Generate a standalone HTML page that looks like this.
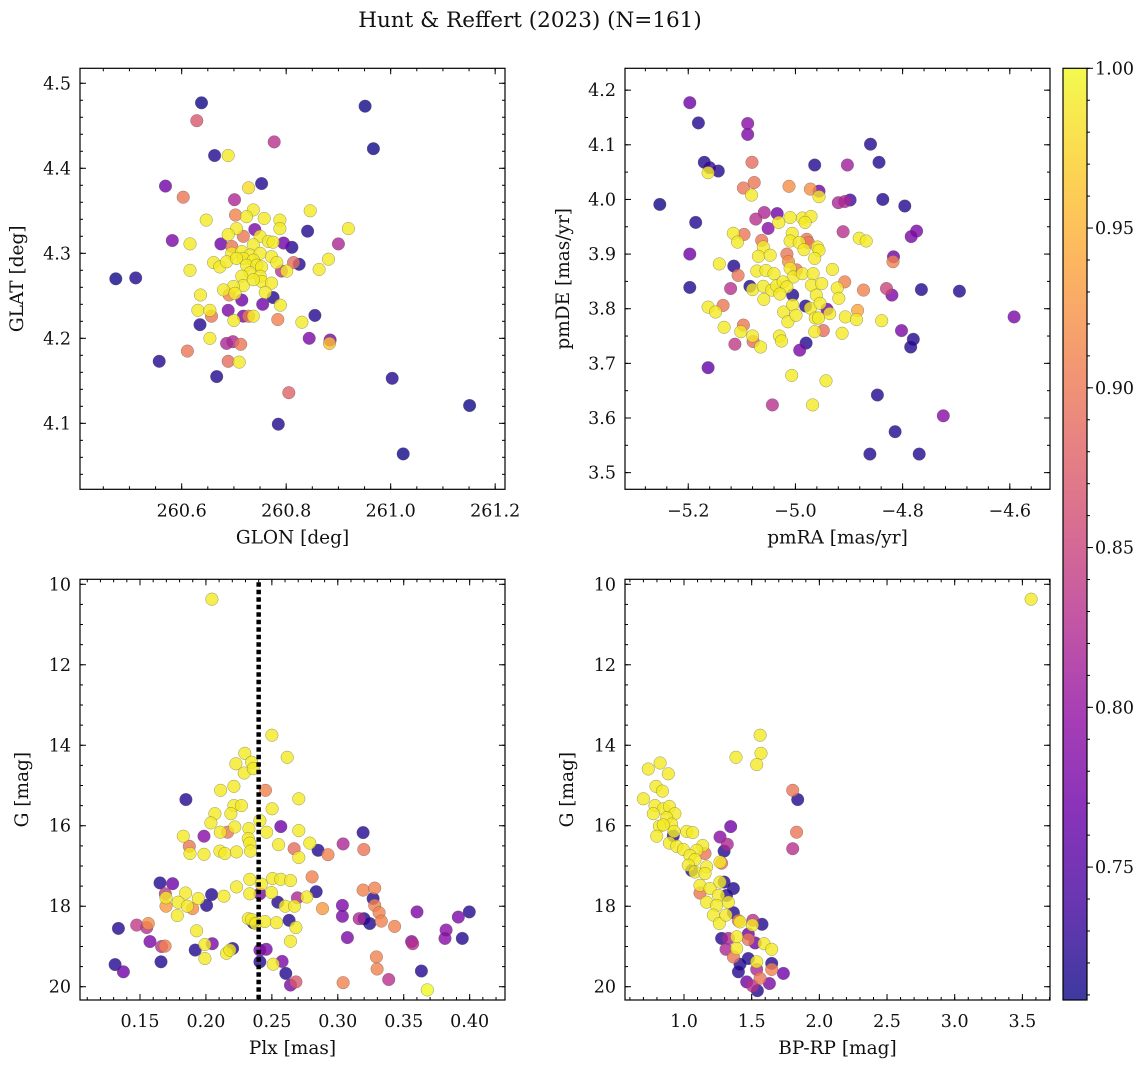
<!DOCTYPE html>
<html><head><meta charset="utf-8"><style>
html,body{margin:0;padding:0;background:#fff;}
svg{display:block;font-family:"DejaVu Serif","Liberation Serif",serif;}
</style></head><body>
<svg id="fig" width="1148" height="1067" viewBox="0 0 1148 1067" xmlns="http://www.w3.org/2000/svg">
<text x="530" y="27" font-size="21.5" text-anchor="middle" fill="#111">Hunt &amp; Reffert (2023) (N=161)</text>
</svg>
<script>
// ---- Panel 1: GLON vs GLAT ----
const tlX=[260.638,260.951,260.629,260.777,260.967,260.663,260.689,260.569,260.753,260.728,260.603,260.701,260.846,260.737,260.647,260.703,260.724,260.758,260.788,260.788,260.919,260.841,260.740,260.705,260.689,260.718,260.582,260.616,260.675,260.900,260.795,260.811,260.750,260.766,260.775,260.696,260.737,260.696,260.715,260.731,260.750,260.772,260.718,260.737,260.661,260.673,260.686,260.705,260.724,260.744,260.753,260.782,260.801,260.731,260.750,260.715,260.718,260.753,260.772,260.699,260.680,260.737,260.760,260.702,260.814,260.825,260.881,260.863,260.616,260.791,260.474,260.512,260.775,260.755,260.715,260.789,260.636,260.691,260.631,260.654,260.657,260.689,260.718,260.728,260.737,260.700,260.784,260.855,260.830,260.635,260.654,260.844,260.884,260.883,260.686,260.698,260.713,260.611,260.557,260.689,260.710,260.667,261.003,260.805,261.151,260.785,261.024];
const tlY=[4.477,4.473,4.456,4.431,4.423,4.415,4.415,4.379,4.382,4.377,4.366,4.363,4.350,4.351,4.339,4.345,4.343,4.341,4.339,4.329,4.329,4.326,4.328,4.329,4.322,4.320,4.315,4.311,4.311,4.311,4.312,4.307,4.320,4.314,4.313,4.308,4.310,4.300,4.302,4.298,4.300,4.296,4.294,4.292,4.289,4.284,4.290,4.294,4.286,4.286,4.284,4.289,4.279,4.277,4.273,4.273,4.262,4.267,4.265,4.261,4.257,4.269,4.254,4.253,4.289,4.287,4.293,4.281,4.280,4.279,4.270,4.271,4.248,4.240,4.245,4.239,4.251,4.251,4.233,4.233,4.226,4.233,4.226,4.226,4.226,4.221,4.222,4.227,4.219,4.216,4.200,4.200,4.198,4.194,4.194,4.196,4.193,4.185,4.173,4.173,4.172,4.155,4.153,4.136,4.121,4.099,4.064];
const tlP=[.71,.71,.87,.83,.71,.72,.99,.77,.72,.98,.90,.82,.99,.99,.99,.91,.99,.99,.99,.99,.99,.72,.78,.99,.99,.90,.78,.99,.77,.82,.77,.72,.99,.99,.99,.90,.99,.99,.99,.99,.99,.99,.99,.99,.99,.99,.99,.99,.99,.99,.99,.99,.99,.99,.99,.99,.99,.99,.99,.99,.99,.99,.99,.99,.89,.72,.99,.99,.99,.83,.71,.72,.72,.77,.77,.99,.99,.91,.99,.99,.90,.78,.78,.90,.99,.99,.91,.72,.99,.72,.99,.78,.78,.96,.82,.82,.90,.90,.72,.89,.99,.72,.72,.88,.71,.72,.71];
// ---- Panel 2: pmRA vs pmDE ----
const trX=[-5.197,-5.181,-5.089,-5.089,-4.860,-5.170,-5.160,-5.144,-5.163,-5.081,-4.964,-4.903,-4.844,-5.097,-5.077,-5.082,-5.012,-4.972,-4.956,-4.956,-5.253,-4.920,-4.898,-4.908,-4.837,-4.796,-5.186,-5.074,-5.058,-5.034,-5.051,-5.031,-5.010,-4.987,-4.971,-4.982,-4.911,-4.774,-4.784,-4.881,-4.868,-5.116,-5.108,-5.096,-5.063,-5.060,-5.006,-5.010,-4.993,-4.979,-4.976,-4.984,-4.959,-4.956,-5.197,-4.817,-4.818,-5.016,-5.013,-5.069,-5.047,-4.964,-5.142,-5.115,-5.107,-5.072,-5.055,-5.040,-5.010,-4.998,-5.004,-4.987,-4.967,-4.931,-5.197,-5.121,-5.085,-5.080,-5.060,-5.044,-5.035,-5.023,-5.016,-5.029,-4.970,-4.951,-4.908,-4.922,-4.873,-4.830,-4.820,-4.765,-4.694,-5.005,-5.059,-4.961,-4.919,-4.981,-4.972,-4.954,-4.941,-4.936,-5.163,-5.135,-5.149,-5.022,-5.005,-4.884,-4.907,-4.886,-4.839,-4.592,-5.014,-4.999,-4.963,-4.957,-5.133,-5.097,-5.102,-5.080,-5.079,-5.065,-5.113,-5.030,-5.026,-4.964,-4.948,-4.913,-4.802,-4.780,-4.785,-4.980,-4.992,-5.163,-5.007,-4.943,-5.043,-4.968,-4.847,-4.724,-4.814,-4.861,-4.769];
const trY=[4.177,4.140,4.139,4.119,4.101,4.068,4.058,4.052,4.049,4.068,4.063,4.063,4.068,4.021,4.031,4.008,4.024,4.019,4.015,4.005,3.991,3.994,3.999,3.996,4.000,3.988,3.958,3.964,3.976,3.974,3.947,3.958,3.967,3.966,3.969,3.958,3.941,3.942,3.932,3.929,3.924,3.938,3.922,3.936,3.925,3.913,3.938,3.924,3.921,3.927,3.921,3.908,3.913,3.907,3.900,3.895,3.886,3.900,3.886,3.896,3.898,3.892,3.882,3.878,3.861,3.869,3.870,3.864,3.874,3.871,3.858,3.864,3.864,3.872,3.839,3.837,3.841,3.835,3.841,3.834,3.842,3.849,3.840,3.827,3.843,3.846,3.849,3.838,3.834,3.837,3.825,3.835,3.832,3.825,3.817,3.825,3.819,3.805,3.801,3.810,3.799,3.791,3.803,3.806,3.794,3.794,3.807,3.797,3.785,3.780,3.778,3.785,3.776,3.788,3.783,3.783,3.766,3.770,3.758,3.750,3.740,3.730,3.735,3.750,3.741,3.758,3.760,3.755,3.760,3.744,3.730,3.737,3.724,3.692,3.678,3.668,3.624,3.624,3.642,3.604,3.575,3.534,3.534];
const trP=[.77,.72,.79,.78,.72,.72,.73,.72,.99,.89,.72,.81,.72,.90,.90,.99,.92,.92,.77,.99,.71,.82,.74,.82,.72,.72,.72,.83,.82,.77,.79,.99,.99,.99,.99,.99,.83,.78,.78,.99,.99,.99,.99,.90,.90,.99,.99,.99,.99,.90,.90,.99,.99,.99,.77,.77,.91,.90,.92,.99,.99,.99,.99,.72,.90,.99,.99,.99,.99,.90,.99,.99,.99,.99,.72,.83,.72,.99,.99,.99,.99,.99,.99,.99,.99,.99,.91,.99,.91,.85,.78,.72,.72,.72,.99,.99,.99,.72,.99,.99,.77,.99,.99,.90,.99,.99,.99,.94,.99,.99,.99,.78,.99,.99,.99,.99,.99,.90,.99,.99,.89,.99,.84,.99,.99,.99,.89,.99,.78,.72,.72,.72,.78,.76,.99,.99,.83,.99,.72,.79,.72,.72,.72];
// ---- Panel 3: Plx vs G ----
const blX=[0.2045,0.250,0.2616,0.2295,0.2227,0.2346,0.229,0.2359,0.2452,0.2111,0.2212,0.2704,0.1848,0.2212,0.227,0.2068,0.2189,0.2502,0.2409,0.2038,0.2109,0.2164,0.2219,0.2326,0.2321,0.2460,0.2568,0.2704,0.1828,0.1985,0.1874,0.1879,0.1985,0.2106,0.2144,0.2232,0.2333,0.2338,0.2551,0.2669,0.2788,0.2851,0.2926,0.2704,0.304,0.3192,0.3197,0.1652,0.1747,0.1692,0.1697,0.2805,0.2505,0.2568,0.2641,0.2333,0.242,0.2232,0.2497,0.2333,0.2409,0.2136,0.2043,0.1942,0.1846,0.179,0.1859,0.1899,0.2005,0.2545,0.2601,0.2672,0.2694,0.2765,0.2836,0.2884,0.3035,0.3192,0.328,0.3268,0.328,0.3313,0.3162,0.1697,0.1783,0.2321,0.2359,0.2346,0.1336,0.1475,0.1551,0.1563,0.2379,0.2447,0.2535,0.2631,0.2682,0.2641,0.1929,0.1576,0.1664,0.169,0.1992,0.2048,0.1919,0.2156,0.2202,0.2182,0.3035,0.3199,0.3242,0.333,0.3431,0.3601,0.3073,0.2457,0.356,0.3568,0.3821,0.3813,0.3914,0.3997,0.3944,0.1311,0.1374,0.1659,0.1992,0.2409,0.2409,0.251,0.2578,0.2606,0.2682,0.2641,0.304,0.3293,0.3298,0.3386,0.3634,0.3679];
const blY=[10.37,13.75,14.30,14.20,14.46,14.42,14.69,14.58,15.12,15.12,15.02,15.33,15.35,15.50,15.50,15.70,15.70,15.58,15.87,15.93,16.16,16.16,16.03,16.07,16.32,16.16,16.02,16.12,16.26,16.26,16.51,16.69,16.71,16.63,16.69,16.65,16.43,16.63,16.47,16.57,16.43,16.61,16.72,16.79,16.45,16.17,16.59,17.42,17.44,17.69,17.79,17.27,17.31,17.33,17.36,17.33,17.45,17.52,17.66,17.69,17.69,17.75,17.71,17.81,17.67,17.90,18.00,18.06,17.98,17.90,18.00,18.00,17.79,17.77,17.64,18.06,17.98,17.60,17.55,17.81,17.98,18.16,18.31,18.00,18.23,18.31,18.41,18.33,18.55,18.47,18.53,18.43,18.43,18.38,18.41,18.35,18.53,18.87,18.61,18.88,19.00,18.99,18.95,18.93,19.09,19.17,19.05,19.09,18.25,18.31,18.43,18.37,18.50,18.14,18.78,19.07,18.88,18.93,18.59,18.80,18.27,18.14,18.80,19.45,19.63,19.38,19.30,19.09,19.38,19.44,19.37,19.67,19.88,19.96,19.90,19.26,19.56,19.82,19.61,20.08];
const blP=[.99,.99,.99,.99,.99,.99,.99,.99,.91,.99,.99,.99,.72,.99,.99,.99,.99,.99,.99,.99,.99,.90,.99,.99,.99,.99,.77,.99,.99,.79,.90,.99,.99,.99,.99,.99,.99,.99,.99,.89,.99,.72,.91,.99,.82,.72,.90,.72,.77,.84,.99,.91,.99,.99,.99,.99,.99,.99,.99,.99,.78,.99,.72,.99,.99,.99,.99,.92,.72,.72,.99,.99,.82,.99,.72,.93,.78,.91,.91,.72,.91,.91,.82,.93,.99,.99,.72,.99,.72,.84,.83,.92,.99,.99,.99,.72,.99,.99,.99,.78,.83,.91,.99,.78,.72,.99,.72,.99,.78,.72,.72,.91,.91,.78,.78,.78,.79,.83,.79,.79,.78,.72,.72,.72,.77,.72,.99,.78,.72,.99,.78,.72,.87,.78,.91,.91,.91,.83,.72];
// ---- Panel 4: BP-RP vs G ----
const brX=[3.564,1.562,1.384,1.569,1.537,0.736,0.823,0.884,0.793,0.840,0.700,1.803,1.840,0.786,0.847,0.892,0.933,0.773,0.872,0.818,0.909,0.847,0.798,0.926,1.020,1.064,0.892,0.946,0.995,0.921,1.345,1.266,1.320,1.296,1.832,1.803,1.138,1.094,1.155,1.044,1.081,1.278,1.266,1.032,1.081,1.167,1.057,1.155,1.118,1.192,1.118,1.266,1.296,1.365,1.254,1.167,1.241,1.328,1.315,1.217,1.261,1.310,1.365,1.402,1.414,1.509,1.505,1.576,1.278,1.328,1.389,1.475,1.475,1.525,1.310,1.389,1.365,1.591,1.648,1.475,1.537,1.537,1.648,1.648,1.414,1.402,1.734,1.463,1.507,1.562,1.631,1.542];
const brY=[10.37,13.75,14.30,14.20,14.48,14.59,14.44,14.71,15.02,15.14,15.33,15.12,15.35,15.50,15.58,15.52,15.70,15.70,15.80,16.01,15.96,15.98,16.26,16.14,16.14,16.17,16.43,16.51,16.59,16.25,16.02,16.28,16.46,16.63,16.16,16.57,16.49,16.61,16.69,16.74,16.84,16.93,16.90,16.98,17.15,17.02,17.11,17.19,17.48,17.56,17.67,17.40,17.40,17.56,17.73,17.90,17.98,17.90,17.73,18.22,18.43,18.22,18.16,18.36,18.39,18.35,18.47,18.45,18.80,18.80,18.76,18.69,18.83,18.91,19.07,19.05,19.26,18.93,19.07,19.30,19.38,19.57,19.42,19.57,19.44,19.63,19.67,19.88,19.98,19.79,19.92,20.10];
const brP=[.99,.99,.99,.99,.99,.99,.99,.99,.99,.99,.99,.90,.72,.99,.99,.99,.99,.99,.99,.99,.99,.99,.99,.99,.99,.99,.99,.99,.99,.72,.77,.79,.82,.72,.90,.83,.99,.99,.90,.99,.99,.90,.99,.99,.99,.99,.72,.99,.99,.99,.90,.99,.72,.72,.99,.99,.99,.99,.72,.99,.99,.99,.72,.91,.99,.83,.99,.72,.72,.82,.99,.77,.90,.77,.82,.99,.90,.99,.99,.72,.99,.82,.72,.91,.72,.72,.77,.77,.83,.90,.78,.72];
// colour-bar ticks
const cbTicks=[0.75,0.80,0.85,0.90,0.95,1.00];
const VMIN=0.7084, VMAX=1.0;

const NS="http://www.w3.org/2000/svg";
const svg=document.getElementById('fig');
const TICKFS=17.5, LABFS=18.5;
function el(tag,attrs,parent){const e=document.createElementNS(NS,tag);for(const k in attrs)e.setAttribute(k,attrs[k]);(parent||svg).appendChild(e);return e;}
const stops=[[0,[13,8,135]],[0.1,[65,4,157]],[0.2,[106,0,168]],[0.3,[143,13,164]],[0.4,[177,42,144]],[0.5,[204,71,120]],[0.6,[225,100,98]],[0.7,[242,132,75]],[0.8,[252,166,54]],[0.9,[252,206,37]],[1,[240,249,33]]];
function plasma(t){t=Math.max(0,Math.min(1,t));for(let i=1;i<stops.length;i++){if(t<=stops[i][0]){const a=stops[i-1],b=stops[i];const f=(t-a[0])/(b[0]-a[0]);const c=a[1].map((v,j)=>Math.round(v+(b[1][j]-v)*f));return `rgb(${c[0]},${c[1]},${c[2]})`;}}return 'rgb(240,249,33)';}
function fmt(v,d){return (v<0?'\u2212':'')+Math.abs(v).toFixed(d);}

function panel(cfg){
  const {name,L,R,T,B,xmin,xmax,ymin,ymax,inv,xs,ys,ps,xMaj,xMin,yMaj,yMin,xd,yd,xlabel,ylabel,ylx}=cfg;
  const g=el('g',{});
  
  
  const sx=v=>L+(v-xmin)/(xmax-xmin)*(R-L);
  const sy=inv?(v=>T+(v-ymin)/(ymax-ymin)*(B-T)):(v=>B-(v-ymin)/(ymax-ymin)*(B-T));
  const pts=g.appendChild(document.createElementNS(NS,'g'));
  
  
  const idx=xs.map((_,i)=>i).sort((a,b)=>ps[a]-ps[b]);
  idx.forEach(i=>{
    const c=el('circle',{cx:sx(xs[i]).toFixed(1),cy:sy(ys[i]).toFixed(1),r:6.3,fill:plasma((ps[i]-VMIN)/(VMAX-VMIN)),'fill-opacity':0.8,stroke:'#555','stroke-opacity':0.6,'stroke-width':0.5},pts);
    
    
  });
  if(cfg.vline!==undefined){
    const ln=el('line',{x1:sx(cfg.vline),x2:sx(cfg.vline),y1:T+3,y2:B,stroke:'#000','stroke-width':4.5,'stroke-dasharray':'4.5 3'},g);
    
    
  }
  const tk=el('g',{stroke:'#000','stroke-width':1},g);
  const start=(a,s)=>Math.ceil((a-1e-9)/s)*s;
  for(let v=start(xmin,xMin);v<=xmax+1e-9;v+=xMin){const x=sx(v);el('line',{x1:x,x2:x,y1:B,y2:B-3},tk);el('line',{x1:x,x2:x,y1:T,y2:T+3},tk);}
  for(let v=start(ymin,yMin);v<=ymax+1e-9;v+=yMin){const y=sy(v);el('line',{x1:L,x2:L+3,y1:y,y2:y},tk);el('line',{x1:R,x2:R-3,y1:y,y2:y},tk);}
  for(let v=start(xmin,xMaj);v<=xmax+1e-9;v+=xMaj){const x=sx(v);el('line',{x1:x,x2:x,y1:B,y2:B-6},tk);el('line',{x1:x,x2:x,y1:T,y2:T+6},tk);
    const t=el('text',{x:x,y:B+27,'font-size':TICKFS,'text-anchor':'middle',fill:'#111'},g);t.textContent=fmt(v,xd);
    
    }
  for(let v=start(ymin,yMaj);v<=ymax+1e-9;v+=yMaj){const y=sy(v);el('line',{x1:L,x2:L+6,y1:y,y2:y},tk);el('line',{x1:R,x2:R-6,y1:y,y2:y},tk);
    const t=el('text',{x:L-9,y:y+6,'font-size':TICKFS,'text-anchor':'end',fill:'#111'},g);t.textContent=fmt(v,yd);
    
    }
  const fr=el('rect',{x:L,y:T,width:R-L,height:B-T,fill:'none',stroke:'#000','stroke-width':1.2},g);
  
  
  const xl=el('text',{x:(L+R)/2,y:B+54,'font-size':LABFS,'text-anchor':'middle',fill:'#111'},g);xl.textContent=xlabel;
  
  
  const cy=(T+B)/2;
  const yl=el('text',{x:ylx,y:cy,'font-size':LABFS,'text-anchor':'middle',fill:'#111',transform:`rotate(-90 ${ylx} ${cy})`},g);yl.textContent=ylabel;
  
  
}
panel({name:'position-panel',L:80,R:505,T:68.3,B:489.3,xmin:260.4054,xmax:261.2188,ymin:4.0224,ymax:4.5176,xs:tlX,ys:tlY,ps:tlP,xMaj:0.2,xMin:0.05,yMaj:0.1,yMin:0.02,xd:1,yd:1,xlabel:'GLON [deg]',ylabel:'GLAT [deg]',ylx:23});
panel({name:'proper-motion-panel',L:625,R:1050,T:68.3,B:489.3,xmin:-5.318,xmax:-4.525,ymin:3.4695,ymax:4.240,xs:trX,ys:trY,ps:trP,xMaj:0.2,xMin:0.04,yMaj:0.1,yMin:0.05,xd:1,yd:1,xlabel:'pmRA [mas/yr]',ylabel:'pmDE [mas/yr]',ylx:569});
panel({name:'parallax-panel',L:80,R:505,T:579.3,B:1000,xmin:0.1045,xmax:0.4268,ymin:9.876,ymax:20.33,inv:true,xs:blX,ys:blY,ps:blP,xMaj:0.05,xMin:0.01,yMaj:2,yMin:0.5,xd:2,yd:0,xlabel:'Plx [mas]',ylabel:'G [mag]',ylx:28,vline:0.240});
panel({name:'cmd-panel',L:625,R:1050,T:579.3,B:1000,xmin:0.564,xmax:3.704,ymin:9.876,ymax:20.33,inv:true,xs:brX,ys:brY,ps:brP,xMaj:0.5,xMin:0.1,yMaj:2,yMin:0.5,xd:1,yd:0,xlabel:'BP-RP [mag]',ylabel:'G [mag]',ylx:573});

// colour bar
const cb=el('g',{});


const defs=el('defs',{},cb);
const lg=el('linearGradient',{id:'pg',x1:0,y1:1,x2:0,y2:0},defs);
for(let i=0;i<=20;i++){const t=i/20;el('stop',{offset:t,'stop-color':plasma(t)},lg);}
const CT=68.3,CB=1000,CL=1063,CR=1087;
const cy=v=>CB-(v-VMIN)/(VMAX-VMIN)*(CB-CT);
el('rect',{x:CL,y:CT,width:CR-CL,height:CB-CT,fill:'url(#pg)','fill-opacity':0.8},cb);
el('rect',{x:CL,y:CT,width:CR-CL,height:CB-CT,fill:'none',stroke:'#000','stroke-width':1.2},cb);
for(let v=0.71;v<=1.0001;v+=0.01){const y=cy(v);el('line',{x1:CR,x2:CR+3,y1:y,y2:y,stroke:'#000'},cb);}
cbTicks.forEach(v=>{const y=cy(v);el('line',{x1:CR,x2:CR+6,y1:y,y2:y,stroke:'#000'},cb);
  const t=el('text',{x:CR+8,y:y+6,'font-size':TICKFS,fill:'#111'},cb);t.textContent=v.toFixed(2);
  
  });
</script>
</body></html>
